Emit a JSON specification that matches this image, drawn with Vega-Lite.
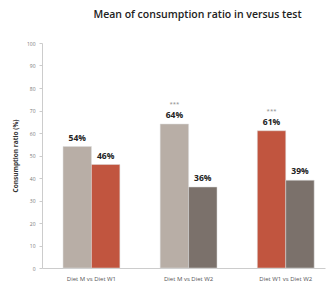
{
  "$schema": "https://vega.github.io/schema/vega-lite/v6.json",
  "autosize": "none",
  "width": 283,
  "height": 225,
  "padding": {"left": 42, "top": 43, "right": 2, "bottom": 14},
  "background": "white",
  "title": {
    "text": "Mean of consumption ratio in versus test",
    "font": "Open Sans",
    "fontSize": 10.5,
    "fontWeight": 600,
    "color": "#222222",
    "anchor": "middle",
    "frame": "group",
    "dx": 14,
    "offset": 21
  },
  "config": {
    "view": {"stroke": null},
    "font": "Open Sans"
  },
  "data": {
    "values": [
      {"group": "Diet M vs Diet W1", "pos": "a", "diet": "Diet M", "value": 54, "label": "54%", "sig": ""},
      {"group": "Diet M vs Diet W1", "pos": "b", "diet": "Diet W1", "value": 46, "label": "46%", "sig": ""},
      {"group": "Diet M vs Diet W2", "pos": "a", "diet": "Diet M", "value": 64, "label": "64%", "sig": "***"},
      {"group": "Diet M vs Diet W2", "pos": "b", "diet": "Diet W2", "value": 36, "label": "36%", "sig": ""},
      {"group": "Diet W1 vs Diet W2", "pos": "a", "diet": "Diet W1", "value": 61, "label": "61%", "sig": "***"},
      {"group": "Diet W1 vs Diet W2", "pos": "b", "diet": "Diet W2", "value": 39, "label": "39%", "sig": ""}
    ]
  },
  "encoding": {
    "x": {
      "field": "group",
      "type": "nominal",
      "sort": null,
      "scale": {"paddingInner": 0.415, "paddingOuter": 0.164, "align": 0.66},
      "axis": {
        "title": null,
        "labelAngle": 0,
        "labelFontSize": 6,
        "labelColor": "#555555",
        "labelPadding": 7,
        "ticks": false,
        "domainColor": "#cccccc"
      }
    },
    "xOffset": {"field": "pos", "type": "nominal", "scale": {"paddingInner": 0, "paddingOuter": 0}},
    "y": {
      "field": "value",
      "type": "quantitative",
      "scale": {"domain": [0, 100], "nice": false},
      "axis": {
        "title": "Consumption ratio (%)",
        "titleFontSize": 6.5,
        "titleFontWeight": "bold",
        "titleColor": "#333333",
        "titlePadding": 8,
        "values": [0, 10, 20, 30, 40, 50, 60, 70, 80, 90, 100],
        "labelFontSize": 5,
        "labelColor": "#777777",
        "labelPadding": 4,
        "tickSize": 3,
        "tickColor": "#cccccc",
        "domainColor": "#cccccc",
        "grid": false
      }
    }
  },
  "layer": [
    {
      "mark": {"type": "bar", "stroke": "#dddddd", "strokeWidth": 0.5},
      "encoding": {
        "color": {
          "field": "diet",
          "type": "nominal",
          "scale": {"domain": ["Diet M", "Diet W1", "Diet W2"], "range": ["#b8aea6", "#c1553f", "#7b716b"]},
          "legend": null
        }
      }
    },
    {
      "mark": {"type": "text", "baseline": "bottom", "dy": -4, "fontSize": 8.5, "fontWeight": "bold", "color": "#222222"},
      "encoding": {"text": {"field": "label"}}
    },
    {
      "mark": {"type": "text", "baseline": "middle", "dy": -20, "fontSize": 6, "color": "#888888"},
      "encoding": {"text": {"field": "sig"}}
    }
  ]
}
